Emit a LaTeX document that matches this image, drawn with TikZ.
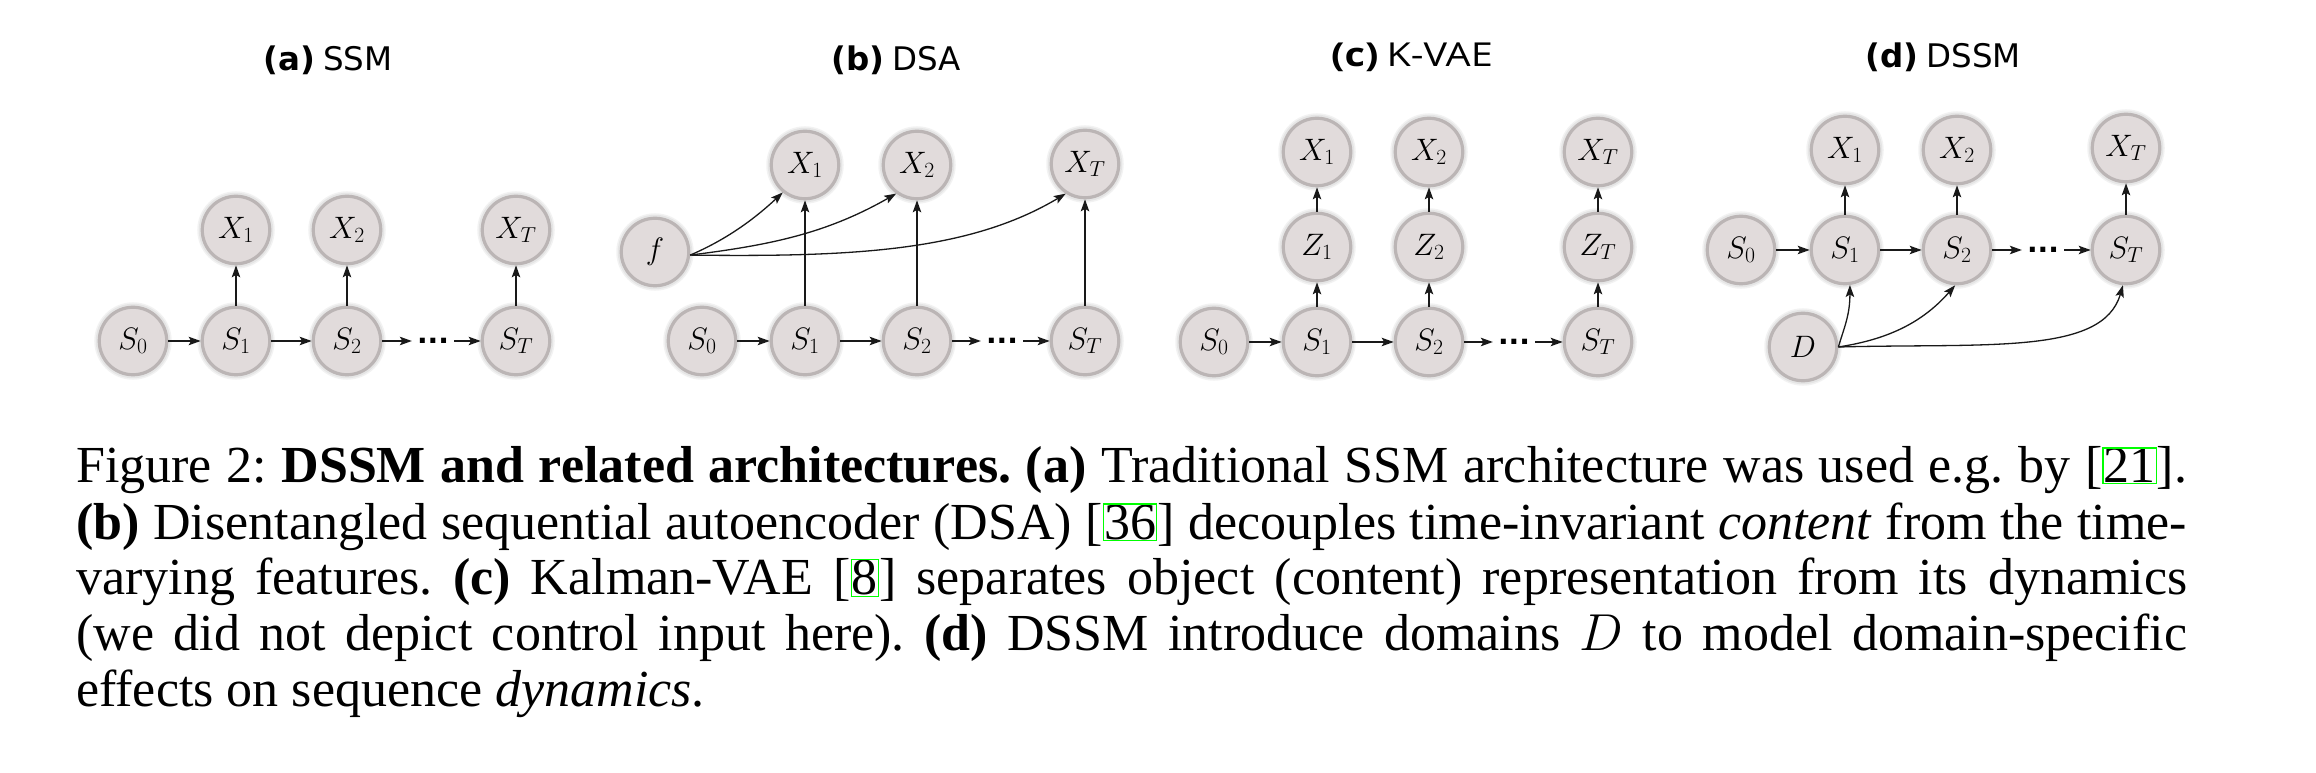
\RequirePackage{fix-cm}
\documentclass[tikz,border=0pt]{standalone}
\usepackage{fontspec}
\setmainfont{Liberation Serif}
\newfontfamily\djv{DejaVu Sans}
\newfontfamily\osans[FakeStretch=1.2]{Open Sans}
\usetikzlibrary{arrows.meta}
\definecolor{nodefill}{RGB}{225,219,219}
\definecolor{nodeborder}{RGB}{187,181,181}
\definecolor{linkgreen}{RGB}{0,255,0}
\newcommand\gbx[1]{{\setlength\fboxsep{0pt}\setlength\fboxrule{1.3pt}\fcolorbox{linkgreen}{white}{#1}}}
\begin{document}
\begin{tikzpicture}[x=1pt,y=1pt,
  nd/.style={circle, minimum size=67.5pt, inner sep=0pt, fill=nodefill, draw=nodeborder,
    line width=3.2pt, font=\fontsize{31}{31}\selectfont,
    preaction={draw=black, opacity=0.05, line width=10pt},
    preaction={draw=black, opacity=0.05, line width=7pt}},
  arr/.style={-{Stealth[length=12pt,width=8.5pt,inset=2.5pt]}, line width=1.3pt, draw=black!90},
  dotsn/.style={inner sep=5pt, anchor=base, font=\djv\bfseries\fontsize{28}{28}\selectfont},
  ttl/.style={anchor=base, inner sep=0pt, font=\fontsize{32.5}{32.5}\selectfont}]
\fill[white] (0,0) rectangle (2316,772);
\useasboundingbox (0,0) rectangle (2316,772);

% ---------- (a) SSM ----------
\node[ttl] (ta) at (328,701) {{\djv\bfseries (a)} {\djv SSM}};
\node[nd] (aS0) at (133,431) {$S_0$};
\node[nd] (aS1) at (236,431) {$S_1$};
\node[nd] (aS2) at (347,431) {$S_2$};
\node[nd] (aST) at (516,431) {$S_T$};
\node[nd] (aX1) at (236,542) {$X_1$};
\node[nd] (aX2) at (347,542) {$X_2$};
\node[nd] (aXT) at (516,542) {$X_T$};
\node[dotsn] (ad) at (433,428.5) {...};
\draw[arr] (aS0) -- (aS1);
\draw[arr] (aS1) -- (aS2);
\draw[arr] (aS2) -- (aS2 -| ad.west);
\draw[arr] (ad.east |- aST) -- (aST);
\draw[arr] (aS1) -- (aX1);
\draw[arr] (aS2) -- (aX2);
\draw[arr] (aST) -- (aXT);

% ---------- (b) DSA ----------
\node[ttl] (tb) at (896,701) {{\djv\bfseries (b)} {\djv DSA}};
\node[nd] (bS0) at (702,431) {$S_0$};
\node[nd] (bS1) at (805,431) {$S_1$};
\node[nd] (bS2) at (917,431) {$S_2$};
\node[nd] (bST) at (1085,431) {$S_T$};
\node[nd] (bX1) at (805,607) {$X_1$};
\node[nd] (bX2) at (917,607) {$X_2$};
\node[nd] (bXT) at (1085,608) {$X_T$};
\node[nd] (bf) at (655,520) {$f$};
\node[dotsn] (bd) at (1002,428.5) {...};
\draw[arr] (bf.-5) .. controls +(35,15) and +(-30,-28) .. (bX1.231);
\draw[arr] (bf.-5) .. controls +(80,10) and +(-70,-40) .. (bX2.234);
\draw[arr] (bf.-5) .. controls +(161,-2) and +(-97,-58) .. (bXT.237);
\draw[arr] (bS0) -- (bS1);
\draw[arr] (bS1) -- (bS2);
\draw[arr] (bS2) -- (bS2 -| bd.west);
\draw[arr] (bd.east |- bST) -- (bST);
\draw[arr] (bS1) -- (bX1);
\draw[arr] (bS2) -- (bX2);
\draw[arr] (bST) -- (bXT);

% ---------- (c) K-VAE ----------
\node[ttl, font=\fontsize{33}{33}\selectfont] (tc) at (1412,705) {{\osans\bfseries (c)} {\osans K-VAE}};
\node[nd] (cS0) at (1214,430) {$S_0$};
\node[nd] (cS1) at (1317,430) {$S_1$};
\node[nd] (cS2) at (1429,430) {$S_2$};
\node[nd] (cST) at (1598,430) {$S_T$};
\node[nd] (cZ1) at (1317,525) {$Z_1$};
\node[nd] (cZ2) at (1429,525) {$Z_2$};
\node[nd] (cZT) at (1598,525) {$Z_T$};
\node[nd] (cX1) at (1317,620) {$X_1$};
\node[nd] (cX2) at (1429,620) {$X_2$};
\node[nd] (cXT) at (1598,620) {$X_T$};
\node[dotsn] (cd) at (1514,427.5) {...};
\draw[arr] (cS0) -- (cS1);
\draw[arr] (cS1) -- (cS2);
\draw[arr] (cS2) -- (cS2 -| cd.west);
\draw[arr] (cd.east |- cST) -- (cST);
\draw[arr] (cS1) -- (cZ1);
\draw[arr] (cS2) -- (cZ2);
\draw[arr] (cST) -- (cZT);
\draw[arr] (cZ1) -- (cX1);
\draw[arr] (cZ2) -- (cX2);
\draw[arr] (cZT) -- (cXT);

% ---------- (d) DSSM ----------
\node[ttl] (td) at (1943,704) {{\djv\bfseries (d)} {\djv DSSM}};
\node[nd] (dS0) at (1741,522) {$S_0$};
\node[nd] (dS1) at (1845,522) {$S_1$};
\node[nd] (dS2) at (1957,522) {$S_2$};
\node[nd] (dST) at (2126,522) {$S_T$};
\node[nd] (dX1) at (1845,622) {$X_1$};
\node[nd] (dX2) at (1957,622) {$X_2$};
\node[nd] (dXT) at (2126,624) {$X_T$};
\node[nd] (dD) at (1803,425) {$D$};
\node[dotsn] (dd) at (2043,519.5) {...};
\draw[arr] (dS0) -- (dS1);
\draw[arr] (dS1) -- (dS2);
\draw[arr] (dS2) -- (dS2 -| dd.west);
\draw[arr] (dd.east |- dST) -- (dST);
\draw[arr] (dS1) -- (dX1);
\draw[arr] (dS2) -- (dX2);
\draw[arr] (dST) -- (dXT);
\draw[arr] (dD.east) .. controls +(6,20) and +(0,-30) .. (dS1.-82);
\draw[arr] (dD.east) .. controls +(45,7) and +(-35,-40) .. (dS2.-93);
\draw[arr] (dD.east) .. controls +(150,4) and +(-20,-70) .. (dST.-95);

% ---------- caption ----------
\node[anchor=base west, inner sep=0pt, text width=2111pt, align=justify,
      font=\fontsize{52}{56}\selectfont] (cap) at (76,289)
{\tolerance=10000\hyphenpenalty=10000\exhyphenpenalty=10000\frenchspacing\relax
Figure 2: \textbf{DSSM and related architectures.} \textbf{(a)} Traditional SSM architecture was used e.g.\ by [\gbx{21}].\linebreak
\textbf{(b)} Disentangled sequential autoencoder (DSA) [\gbx{36}] decouples time-invariant \textit{content} from the time-\linebreak
varying features. \textbf{(c)} Kalman-VAE [\gbx{8}] separates object (content) representation from its dynamics\linebreak
(we did not depict control input here). \textbf{(d)} DSSM introduce domains $D$ to model domain-specific\linebreak
effects on sequence \textit{dynamics}.};
\end{tikzpicture}
\end{document}
